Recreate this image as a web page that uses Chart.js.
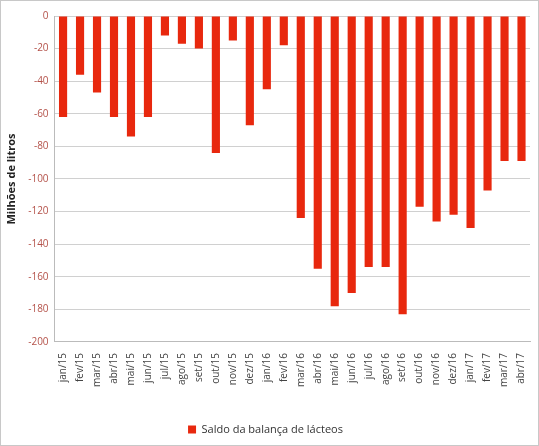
<!DOCTYPE html>
<html>
<head>
<meta charset="utf-8">
<script src="https://cdn.jsdelivr.net/npm/chart.js@4"></script>
<style>
  html, body { margin: 0; padding: 0; background: #fff; }
  #wrap { position: absolute; left: 0; top: 0; width: 537px; height: 444px; border: 1px solid #c8c8c8; }
</style>
</head>
<body>
<div id="wrap"><canvas id="c"></canvas></div>
<script>
const months = ['jan/15','fev/15','mar/15','abr/15','mai/15','jun/15','jul/15','ago/15','set/15','out/15','nov/15','dez/15',
  'jan/16','fev/16','mar/16','abr/16','mai/16','jun/16','jul/16','ago/16','set/16','out/16','nov/16','dez/16',
  'jan/17','fev/17','mar/17','abr/17']
const saldo = [-62,-36,-47,-62,-74,-62,-12,-17,-20,-84,-15,-67,
  -45,-18,-124,-155,-178,-170,-154,-154,-183,-117,-126,-122,
  -130,-107,-89,-89]
const yTicks = [0,-20,-40,-60,-80,-100,-120,-140,-160,-180,-200]

const RED = '#e8280e'
const TICK = '#b4524a'

new Chart(document.getElementById('c'), {
  type: 'bar',
  data: {
    labels: months,
    datasets: [{ label: 'Saldo da balança de lácteos', data: saldo, backgroundColor: RED, borderWidth: 0, categoryPercentage: 1, barPercentage: 0.48 }],
  },
  options: {
    responsive: true, maintainAspectRatio: false, animation: false,
    layout: { padding: { top: 15, right: 8, left: 0, bottom: 0 } },
    plugins: {
      legend: { position: 'bottom', labels: { color: '#333', boxWidth: 8, boxHeight: 8, padding: 2, font: { family: 'Open Sans', size: 11 } } },
      tooltip: { enabled: false },
    },
    scales: {
      x: {
        grid: { display: false },
        border: { color: '#bbb' },
        afterFit: ax => { ax.height += 32 },
        ticks: { color: '#444', minRotation: 90, maxRotation: 90, autoSkip: false, font: { family: 'Open Sans', size: 10 } },
      },
      y: {
        min: -200, max: 0,
        afterBuildTicks: ax => { ax.ticks = yTicks.map(v => ({ value: v })) },
        grid: { color: '#d0d0d0', drawTicks: false },
        border: { color: '#bbb' },
        ticks: { color: TICK, padding: 6, font: { family: 'Open Sans', size: 10 } },
        title: { display: true, text: 'Milhões de litros', color: '#222', font: { family: 'Open Sans', size: 11, weight: 'bold' } },
      },
    },
  },
})
</script>
</body>
</html>
